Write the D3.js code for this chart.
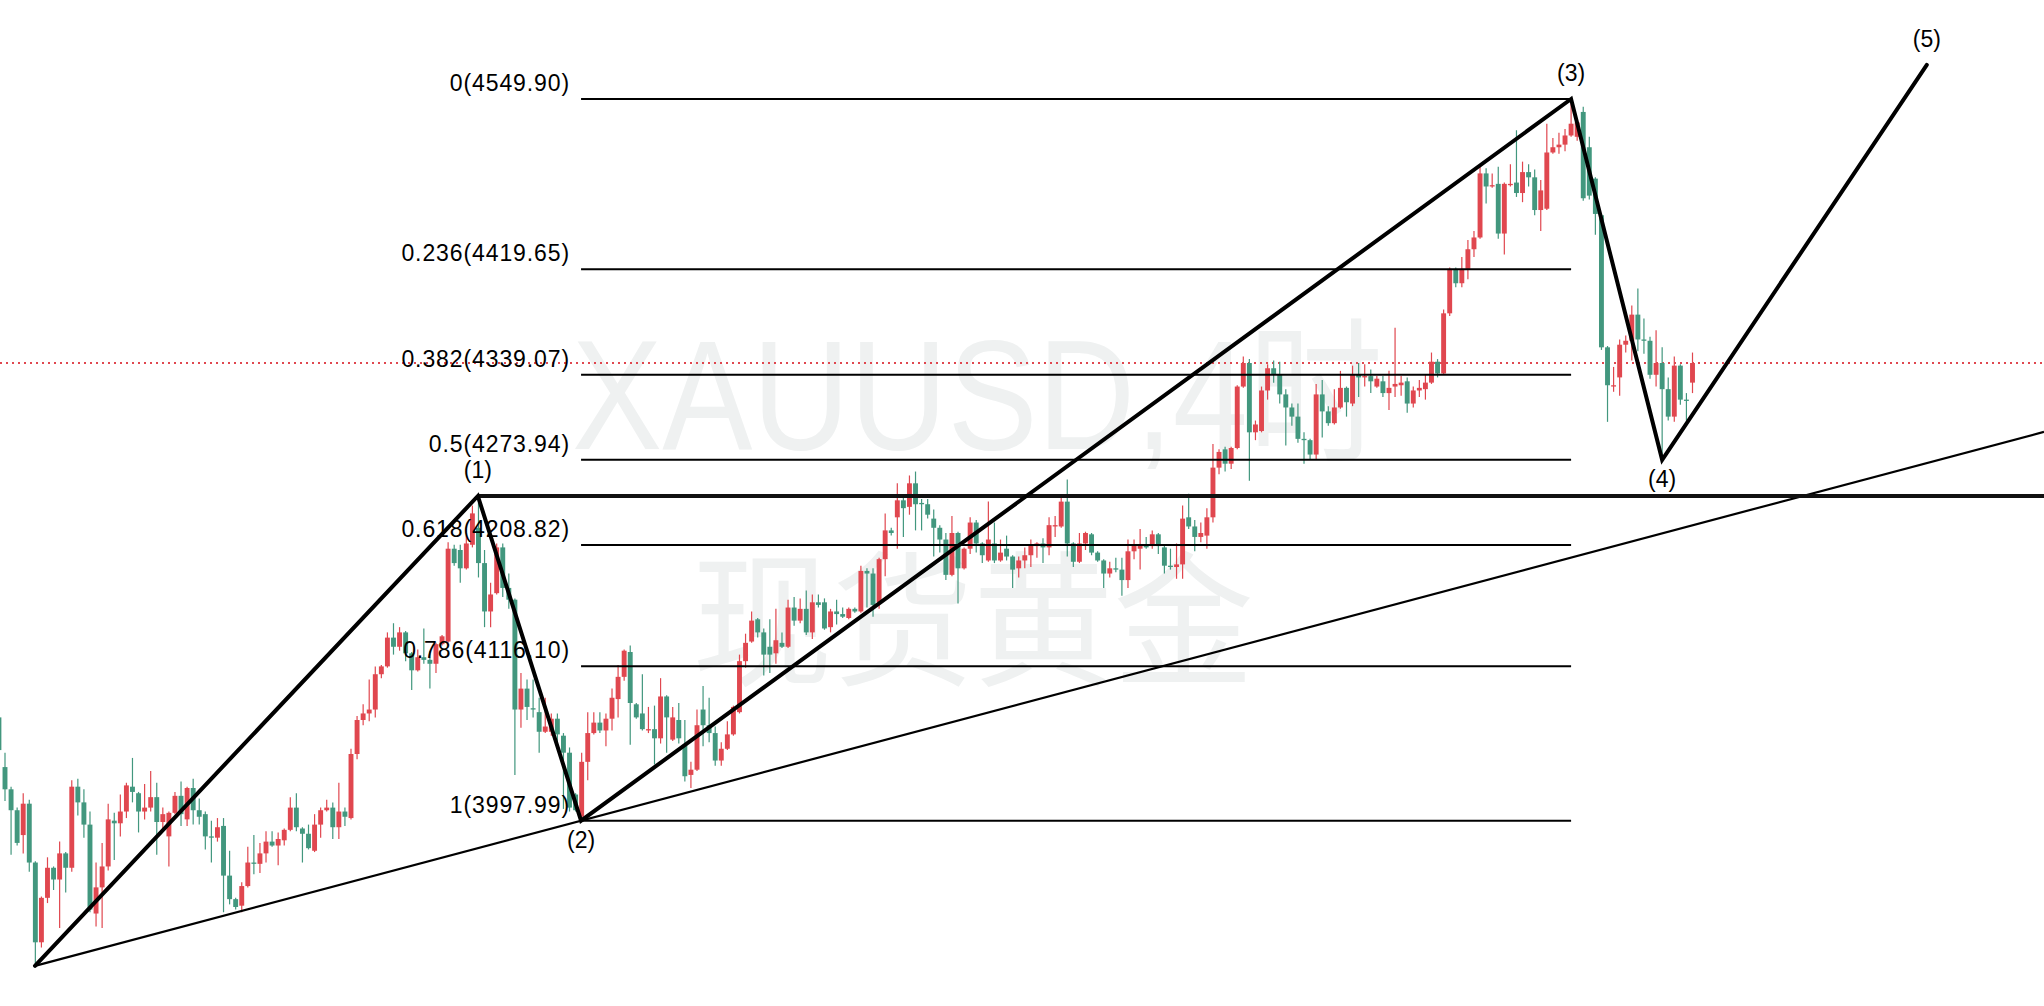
<!DOCTYPE html>
<html><head><meta charset="utf-8">
<script src="https://cdn.jsdelivr.net/npm/d3@7"></script>
<style>html,body{margin:0;padding:0;background:#fff;overflow:hidden}</style>
</head><body>
<svg id="chart" width="2044" height="1006"></svg>
<script>
// ---- candle data (XAUUSD 4H), index 0..279 ----
const opens = [4077,4039,4022,4006,3987,4011,3966,3905,3939,3962,3953,3973,3962,4024,4012,3995,3927,3947,3963,3998,
3996,4005,4024,4019,4005,4008,4016,3997,3986,4004,4017,3999,4023,4006,4003,3986,3985,3994,3956,3938,
3933,3948,3966,3965,3973,3982,3979,3983,3991,4008,3992,3988,3975,3995,4006,4008,3993,4005,4000,4049,
4075,4080,4083,4110,4116,4138,4131,4142,4126,4113,4123,4121,4118,4133,4135,4206,4205,4191,4209,4222,
4195,4158,4172,4207,4176,4167,4083,4099,4084,4081,4066,4066,4076,4063,4050,4018,4001,4043,4065,4073,
4067,4076,4091,4108,4127,4087,4080,4067,4068,4061,4093,4060,4075,4056,4033,4037,4083,4071,4065,4044,
4053,4064,4081,4120,4135,4152,4142,4131,4126,4134,4131,4161,4151,4160,4142,4165,4165,4146,4158,4156,
4153,4160,4158,4189,4187,4165,4198,4220,4230,4243,4238,4256,4241,4240,4229,4222,4213,4186,4218,4191,
4206,4226,4210,4197,4210,4197,4206,4200,4191,4197,4201,4208,4210,4207,4223,4223,4242,4210,4196,4210,
4217,4203,4197,4187,4191,4190,4182,4204,4206,4209,4208,4217,4207,4193,4192,4194,4230,4223,4215,4216,
4230,4268,4282,4271,4283,4330,4348,4295,4296,4327,4344,4339,4324,4314,4307,4290,4289,4278,4324,4311,
4302,4314,4329,4317,4339,4337,4338,4330,4334,4325,4330,4331,4334,4317,4327,4328,4333,4349,4340,4386,
4420,4409,4420,4435,4444,4493,4483,4485,4447,4484,4486,4478,4494,4490,4465,4466,4509,4513,4515,4522,
4521,4540,4513,4489,4461,4360,4330,4337,4362,4365,4385,4366,4365,4339,4348,4328,4307,4346,4320,4333];
const highs = [4080,4050,4024,4008,4019,4014,3967,3940,3970,3963,3982,3974,4029,4030,4022,4005,3966,3981,4011,4004,
4018,4027,4046,4020,4026,4036,4027,4008,4005,4020,4028,4024,4030,4015,4005,3998,4000,4000,3975,3939,
3951,3978,3987,3981,3990,3990,3989,3992,4016,4019,3993,3995,4003,4008,4014,4012,4027,4008,4053,4078,
4087,4106,4116,4117,4142,4149,4146,4143,4127,4129,4145,4128,4134,4140,4211,4209,4209,4216,4239,4246,
4205,4180,4210,4210,4187,4168,4111,4106,4106,4092,4092,4080,4080,4065,4054,4019,4050,4081,4081,4081,
4080,4099,4117,4129,4132,4088,4110,4085,4086,4107,4094,4085,4088,4075,4043,4083,4101,4092,4070,4058,
4074,4086,4125,4141,4158,4153,4145,4152,4160,4142,4167,4169,4168,4174,4171,4171,4168,4160,4167,4161,
4161,4161,4193,4191,4191,4199,4233,4222,4256,4246,4262,4265,4244,4244,4236,4224,4218,4231,4219,4207,
4230,4228,4211,4242,4226,4213,4216,4201,4200,4207,4213,4211,4214,4230,4231,4245,4259,4211,4218,4219,
4218,4204,4198,4196,4199,4199,4213,4213,4221,4215,4220,4218,4208,4206,4210,4239,4248,4228,4226,4237,
4286,4282,4284,4284,4331,4353,4351,4304,4330,4347,4350,4349,4328,4317,4317,4295,4290,4332,4335,4315,
4328,4342,4330,4346,4348,4347,4343,4338,4338,4342,4375,4338,4337,4330,4335,4339,4356,4351,4389,4421,
4421,4429,4442,4449,4498,4497,4493,4498,4486,4500,4526,4502,4500,4496,4488,4531,4520,4524,4527,4549.9,
4535,4544,4521,4490,4462,4361,4345,4366,4369,4392,4405,4382,4368,4373,4360,4337,4353,4347,4325,4356];
const lows = [4047,4013,3972,3979,3973,3959,3887,3901,3935,3945,3916,3943,3959,4002,3985,3928,3917,3916,3960,3968,
3986,4000,4012,3989,3999,4005,3972,3992,3963,4003,3994,3994,3995,3995,3976,3966,3982,3928,3934,3930,
3928,3947,3957,3958,3966,3978,3964,3979,3990,3990,3966,3976,3974,3985,4005,3984,3984,3994,3999,4045,
4071,4074,4077,4107,4115,4125,4128,4120,4098,4112,4118,4099,4111,4132,4134,4193,4180,4190,4207,4184,
4146,4146,4171,4169,4160,4033,4069,4075,4077,4050,4065,4063,4057,4007,4005,4005,3998,4029,4064,4065,
4055,4067,4077,4105,4056,4076,4067,4065,4041,4057,4050,4059,4057,4028,4023,4036,4055,4058,4040,4040,
4052,4063,4080,4115,4134,4138,4109,4111,4118,4130,4130,4147,4149,4140,4137,4161,4144,4142,4148,4153,
4152,4157,4157,4161,4154,4160,4185,4216,4206,4215,4232,4220,4220,4229,4200,4203,4182,4185,4164,4190,
4202,4203,4195,4196,4195,4196,4197,4176,4184,4191,4192,4199,4195,4201,4215,4222,4200,4192,4195,4205,
4201,4196,4176,4184,4188,4170,4176,4198,4190,4206,4206,4202,4187,4190,4183,4183,4221,4204,4211,4206,
4226,4263,4265,4267,4282,4329,4258,4289,4295,4320,4333,4317,4285,4300,4287,4271,4274,4274,4291,4300,
4301,4313,4307,4315,4322,4330,4325,4329,4322,4312,4322,4323,4310,4314,4322,4320,4332,4337,4339,4384,
4406,4406,4412,4429,4443,4470,4482,4443,4431,4483,4475,4471,4483,4461,4449,4465,4508,4508,4510,4521,
4518,4472,4473,4446,4358,4303,4326,4323,4356,4350,4357,4355,4336,4330,4274,4304,4303,4316,4304,4325];
const closes = [4052,4022,4006,3981,4011,3966,3905,3939,3962,3953,3973,3962,4024,4012,3995,3930,3947,3963,3999,3996,
4005,4025,4020,4005,4008,4016,3997,4003,4004,4017,4003,4023,4006,4001,3986,3985,3993,3956,3938,3932,
3948,3966,3965,3973,3982,3979,3984,3991,4008,3993,3988,3977,3995,4006,4008,3993,4005,4001,4049,4075,
4080,4083,4110,4116,4138,4131,4142,4126,4113,4123,4121,4118,4133,4139,4206,4195,4191,4210,4233,4195,
4158,4171,4207,4176,4167,4083,4099,4085,4083,4066,4070,4076,4064,4050,4008,4006,4043,4065,4073,4067,
4076,4092,4108,4128,4088,4077,4068,4068,4061,4093,4077,4077,4061,4032,4037,4071,4071,4065,4044,4053,
4064,4085,4120,4134,4151,4142,4125,4125,4136,4131,4161,4151,4160,4142,4165,4163,4145,4158,4156,4154,
4160,4158,4189,4187,4163,4198,4220,4218,4243,4237,4256,4240,4240,4232,4222,4213,4186,4218,4191,4206,
4226,4210,4201,4213,4197,4203,4200,4190,4197,4201,4209,4210,4207,4224,4224,4242,4210,4196,4210,4218,
4203,4197,4187,4191,4190,4182,4204,4209,4209,4207,4217,4208,4193,4192,4194,4229,4223,4215,4218,4230,
4268,4280,4271,4283,4330,4348,4295,4301,4327,4344,4339,4324,4314,4307,4290,4289,4278,4324,4311,4302,
4314,4329,4318,4339,4337,4338,4334,4336,4325,4329,4332,4333,4317,4327,4329,4333,4349,4340,4386,4420,
4409,4420,4435,4444,4493,4483,4484,4447,4485,4485,4478,4494,4490,4465,4480,4509,4513,4515,4522,4531,
4532,4474,4476,4462,4360,4331,4331,4362,4365,4385,4366,4365,4339,4348,4328,4307,4346,4320,4319,4348];

// ---- Fibonacci retracement ----
const fibRatios = ["0","0.236","0.382","0.5","0.618","0.786","1"];
const fibPrices = [4549.90,4419.65,4339.07,4273.94,4208.82,4116.10,3997.99];
const fibSpan = [95.9, 259.0];          // candle index where the levels start / end

// ---- Elliott wave points ----
const waveLabels = ["", "(1)", "(2)", "(3)", "(4)", "(5)"];
const waveIndex  = [5.94, 78.9, 95.9, 259.0, 274.0, 317.6];
const wavePrice  = [3887, 4246.3, 3997.99, 4549.90, 4273.94, 4576];
const waveLabelSide = ["", "up", "down", "up", "down", "up"];

// ---- support trend line & wave-1 level ----
const trendIndex = [5.94, 95.9];
const trendPrice = [3887, 3997.99];
const wave1Level = 4246.3;

const watermarkLines = ["XAUUSD,4时", "现货黄金"];

const W = 2044, H = 1006;
const UP = "#e0474f", DOWN = "#42977e";

const x = d3.scaleLinear().domain([0, 279]).range([-1.07, 1692.5]);
const y = d3.scaleLinear().domain([3997.99, 4549.90]).range([820.7, 99]);

const svg = d3.select("#chart");
svg.append("rect").attr("width", W).attr("height", H).attr("fill", "#fff");

// watermark
svg.append("text").text(watermarkLines[0])
  .attr("x", 572).attr("y", 449)
  .attr("textLength", 811).attr("lengthAdjust", "spacingAndGlyphs")
  .attr("font-family", "'Liberation Sans', Arial, 'Noto Sans CJK SC', sans-serif")
  .attr("font-size", 156).attr("fill", "#eff1f1");
svg.append("text").text(watermarkLines[1])
  .attr("x", 692).attr("y", 674)
  .attr("textLength", 562).attr("lengthAdjust", "spacingAndGlyphs")
  .attr("font-family", "'Noto Sans CJK SC', sans-serif")
  .attr("font-size", 146).attr("fill", "#eff1f1");

// last price dotted line
const lastPrice = closes[closes.length - 1];
svg.append("line")
  .attr("x1", 0).attr("x2", W)
  .attr("y1", y(lastPrice)).attr("y2", y(lastPrice))
  .attr("stroke", UP).attr("stroke-width", 2).attr("stroke-dasharray", "2 4");

// candles
const idx = d3.range(opens.length);
const bodyW = 4.9;
const g = svg.append("g");
g.selectAll("line.wick").data(idx).join("line").attr("class", "wick")
  .attr("x1", i => x(i)).attr("x2", i => x(i))
  .attr("y1", i => y(highs[i])).attr("y2", i => y(lows[i]))
  .attr("stroke", i => closes[i] >= opens[i] ? UP : DOWN)
  .attr("stroke-width", 1.2);
g.selectAll("rect.body").data(idx).join("rect").attr("class", "body")
  .attr("x", i => x(i) - bodyW / 2).attr("width", bodyW)
  .attr("y", i => y(Math.max(opens[i], closes[i])))
  .attr("height", i => Math.max(1.2, Math.abs(y(opens[i]) - y(closes[i]))))
  .attr("fill", i => closes[i] >= opens[i] ? UP : DOWN);

// fib levels
const fx1 = x(fibSpan[0]), fx2 = x(fibSpan[1]);
svg.selectAll("line.fib").data(fibPrices).join("line").attr("class", "fib")
  .attr("x1", fx1).attr("x2", fx2)
  .attr("y1", d => y(d)).attr("y2", d => y(d))
  .attr("stroke", "#000").attr("stroke-width", 2);
svg.selectAll("text.fib").data(fibPrices).join("text").attr("class", "fib")
  .attr("x", fx1 - 11).attr("y", d => y(d) - 8)
  .attr("text-anchor", "end")
  .attr("font-family", "'Liberation Sans', Arial, sans-serif")
  .attr("font-size", 23).attr("letter-spacing", 0.9).attr("fill", "#000")
  .text((d, i) => `${fibRatios[i]}(${d.toFixed(2)})`);

// support trend line extended to right edge
const slope = (trendPrice[1] - trendPrice[0]) / (trendIndex[1] - trendIndex[0]);
const iEnd = x.invert(W);
svg.append("line")
  .attr("x1", x(trendIndex[0])).attr("y1", y(trendPrice[0]))
  .attr("x2", W).attr("y2", y(trendPrice[0] + slope * (iEnd - trendIndex[0])))
  .attr("stroke", "#000").attr("stroke-width", 2.2);

// wave (1) horizontal level
svg.append("line")
  .attr("x1", x(waveIndex[1])).attr("x2", W)
  .attr("y1", y(wave1Level)).attr("y2", y(wave1Level))
  .attr("stroke", "#111").attr("stroke-width", 3.8);

// wave path
const pts = waveIndex.map((d, i) => [x(d), y(wavePrice[i])]);
svg.append("path").attr("d", d3.line()(pts))
  .attr("fill", "none").attr("stroke", "#000").attr("stroke-width", 4)
  .attr("stroke-linejoin", "miter").attr("stroke-linecap", "round");

// wave labels
svg.selectAll("text.wave").data(d3.range(1, waveLabels.length)).join("text").attr("class", "wave")
  .attr("x", i => pts[i][0])
  .attr("y", i => waveLabelSide[i] === "up" ? pts[i][1] - 18 : pts[i][1] + 27)
  .attr("text-anchor", "middle")
  .attr("font-family", "'Liberation Sans', Arial, sans-serif")
  .attr("font-size", 23).attr("fill", "#000")
  .text(i => waveLabels[i]);
</script>
</body></html>
